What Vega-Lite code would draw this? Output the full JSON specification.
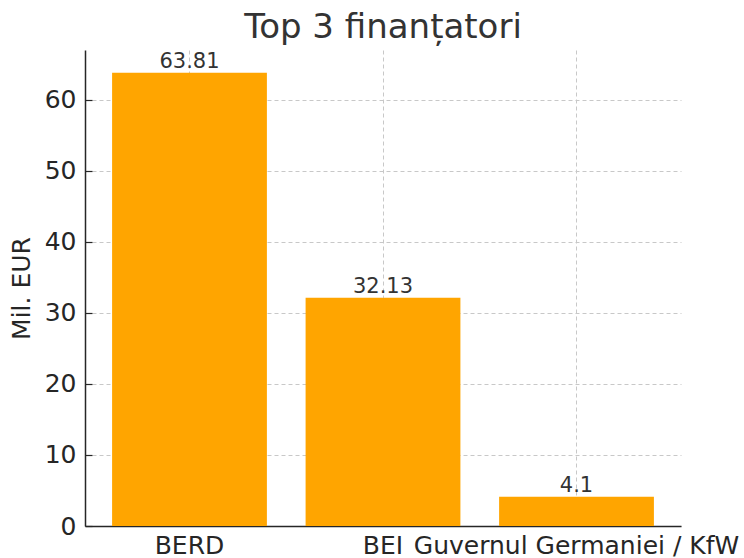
{
  "$schema": "https://vega.github.io/schema/vega-lite/v6.json",
  "width": 596,
  "height": 476,
  "autosize": {"type": "none"},
  "padding": {"left": 85, "top": 50, "right": 63, "bottom": 32},
  "background": "white",
  "title": {
    "text": "Top 3 finanțatori",
    "font": "DejaVu Sans",
    "fontSize": 34,
    "fontWeight": "normal",
    "color": "#333333",
    "anchor": "middle",
    "offset": 5
  },
  "data": {
    "values": [
      {"finantator": "BERD", "valoare": 63.81, "eticheta": "63.81"},
      {"finantator": "BEI", "valoare": 32.13, "eticheta": "32.13"},
      {"finantator": "Guvernul Germaniei / KfW", "valoare": 4.1, "eticheta": "4.1"}
    ]
  },
  "config": {
    "view": {"stroke": null},
    "font": "DejaVu Sans",
    "axis": {
      "labelFont": "DejaVu Sans",
      "titleFont": "DejaVu Sans",
      "labelFontSize": 25,
      "titleFontSize": 25,
      "labelColor": "#262626",
      "titleColor": "#262626",
      "titleFontWeight": "normal",
      "domainColor": "#262626",
      "domainWidth": 1.5,
      "tickColor": "#262626",
      "tickSize": -7,
      "tickWidth": 1.2,
      "gridColor": "#c8c8c8",
      "gridDash": [4, 3],
      "gridWidth": 1,
      "labelLimit": 0,
      "zindex": 1
    }
  },
  "encoding": {
    "x": {
      "field": "finantator",
      "type": "nominal",
      "sort": null,
      "scale": {"paddingInner": 0.2, "paddingOuter": 0.14},
      "axis": {
        "title": null,
        "labelAngle": 0,
        "grid": true,
        "labelPadding": 14,
        "labelOverlap": false,
        "bandPosition": 0.5
      }
    },
    "y": {
      "field": "valoare",
      "type": "quantitative",
      "scale": {"domain": [0, 67]},
      "axis": {
        "title": "Mil. EUR",
        "values": [0, 10, 20, 30, 40, 50, 60],
        "grid": true,
        "labelPadding": 16,
        "titlePadding": 10
      }
    }
  },
  "layer": [
    {"mark": {"type": "bar", "color": "#FFA500"}},
    {
      "mark": {
        "type": "text",
        "baseline": "alphabetic",
        "dy": -5,
        "fontSize": 21,
        "color": "#333333",
        "font": "DejaVu Sans"
      },
      "encoding": {"text": {"field": "eticheta"}}
    }
  ]
}
